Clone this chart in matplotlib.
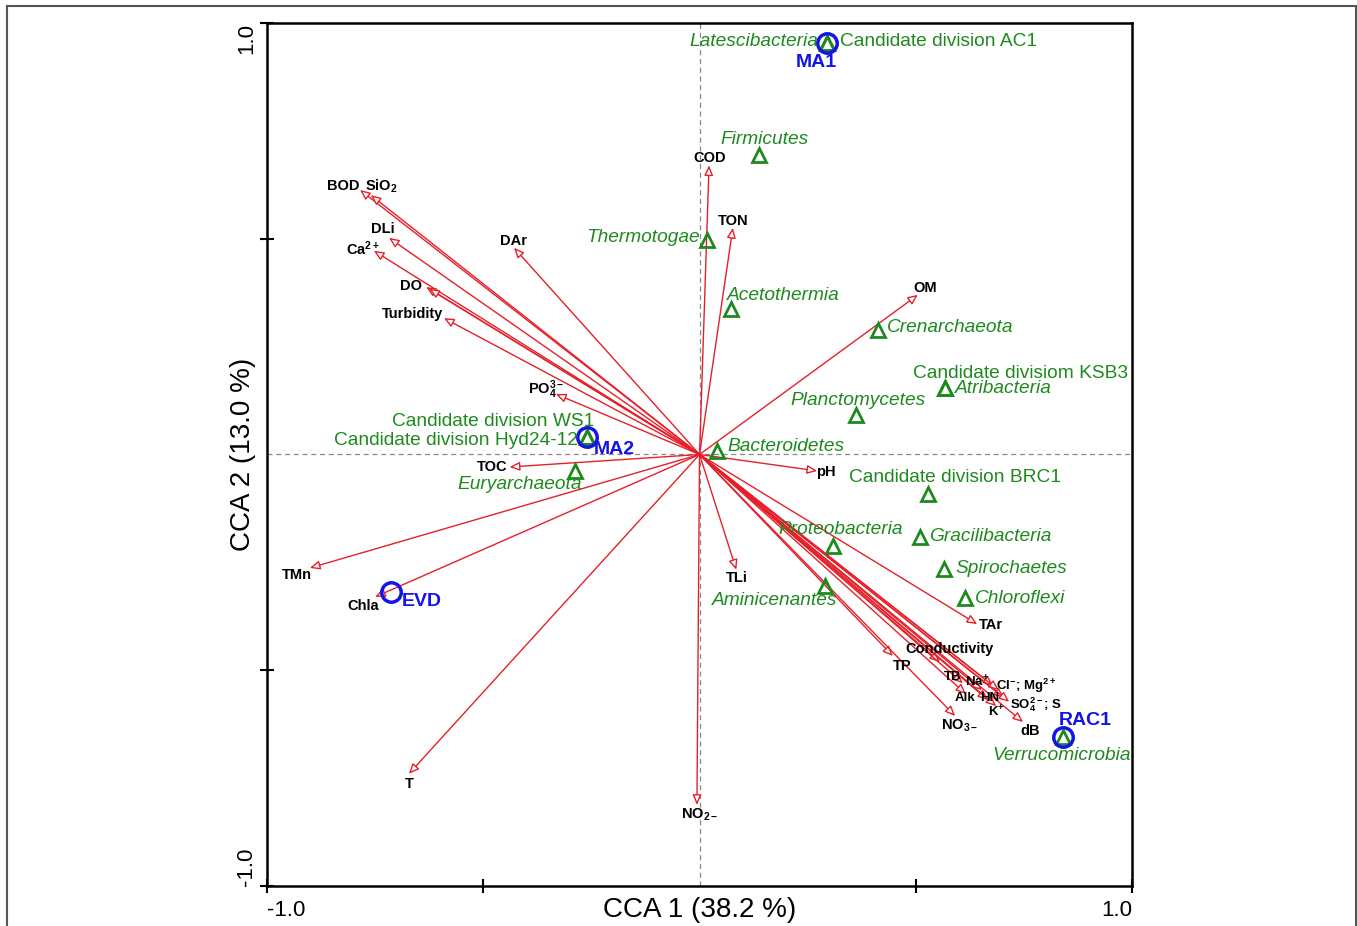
import matplotlib
matplotlib.use("Agg")
import matplotlib.pyplot as plt
from matplotlib.patches import Rectangle

plt.rcParams["font.family"] = ["Liberation Sans", "DejaVu Sans"]
plt.rcParams["mathtext.default"] = "regular"

# %% data: environmental vectors (arrow tips in CCA space)
env_names = ["COD", "TON", "BOD", "SiO2", "DLi", "Ca", "DAr", "DO", "DO2", "Turbidity",
             "PO4", "TOC", "pH", "OM", "TLi", "NO2", "T", "TMn", "Chla", "TAr", "TP",
             "Conductivity", "TB", "Na", "Alk", "HN", "Cl", "Mg", "SO4", "S", "K", "dB", "NO3"]
env_x = [0.022, 0.077, -0.785, -0.760, -0.718, -0.753, -0.429, -0.632, -0.625, -0.591,
         -0.332, -0.439, 0.272, 0.505, 0.085, -0.006, -0.672, -0.901, -0.750, 0.642, 0.447,
         0.556, 0.609, 0.653, 0.616, 0.667, 0.679, 0.692, 0.704, 0.716, 0.686, 0.748, 0.591]
env_y = [0.670, 0.525, 0.613, 0.601, 0.502, 0.472, 0.479, 0.388, 0.384, 0.316,
         0.140, -0.029, -0.038, 0.370, -0.267, -0.812, -0.740, -0.263, -0.330, -0.393, -0.467,
         -0.481, -0.530, -0.546, -0.555, -0.569, -0.536, -0.546, -0.564, -0.573, -0.583, -0.620, -0.606]
env_labels = {
    "COD": "COD", "TON": "TON", "BOD": "BOD", "SiO2": r"SiO$_2$", "DLi": "DLi",
    "Ca": r"Ca$^{2+}$", "DAr": "DAr", "DO": "DO", "Turbidity": "Turbidity",
    "PO4": r"PO$_4^{3-}$", "TOC": "TOC", "pH": "pH", "OM": "OM", "TLi": "TLi",
    "NO2": r"NO$_{2-}$", "T": "T", "TMn": "TMn", "Chla": "Chla", "TAr": "TAr", "TP": "TP",
    "Conductivity": "Conductivity", "TB": "TB", "Na": r"Na$^{+}$", "Alk": "Alk", "HN": "HN",
    "Cl": r"Cl$^{-}$; Mg$^{2+}$", "SO4": r"SO$_4^{2-}$; S", "K": r"K$^{+}$", "dB": "dB",
    "NO3": r"NO$_{3-}$",
}

# species (triangles)
species = ["Latescibacteria", "Candidate division AC1", "Firmicutes", "Thermotogae", "Acetothermia",
           "Crenarchaeota", "Atribacteria", "Candidate divisiom KSB3", "Planctomycetes",
           "Bacteroidetes", "Candidate division BRC1", "Gracilibacteria", "Proteobacteria",
           "Spirochaetes", "Chloroflexi", "Aminicenantes", "Verrucomicrobia", "Euryarchaeota",
           "Candidate division WS1", "Candidate division Hyd24-12"]
sp_x = [0.295, 0.295, 0.137, 0.017, 0.073, 0.412, 0.568, 0.568, 0.362, 0.040, 0.528, 0.510,
        0.308, 0.566, 0.614, 0.290, 0.840, -0.288, -0.260, -0.260]
sp_y = [0.954, 0.954, 0.694, 0.497, 0.337, 0.288, 0.154, 0.154, 0.092, 0.008, -0.092, -0.191,
        -0.212, -0.265, -0.333, -0.305, -0.655, -0.038, 0.041, 0.041]
sp_italic = [True, False, True, True, True, True, True, False, True, True, False, True, True,
             True, True, True, True, True, False, False]

# samples (circles)
samples = ["MA1", "MA2", "EVD", "RAC1"]
smp_x = [0.295, -0.260, -0.713, 0.840]
smp_y = [0.954, 0.041, -0.319, -0.655]

# %% label placement (pixel offsets, y up) and alignment
env_off = {
    "COD": (1, 7), "TON": (0, 7), "BOD": (-17, 4), "SiO2": (10, 9), "DLi": (-6, 9),
    "Ca": (-11, 2), "DAr": (-1, 7), "DO": (-15, 1), "Turbidity": (-31, 4), "PO4": (-10, 4),
    "TOC": (-17, 0), "pH": (9, -1), "OM": (7, 7), "TLi": (1, -8), "NO2": (3, -10), "T": (0, -10),
    "TMn": (-13, -7), "Chla": (-12, -9), "TAr": (14, -1), "TP": (9, -10), "Conductivity": (10, 13),
    "TB": (-10, 6), "Na": (-5, 8), "Alk": (-1, -4), "HN": (2, 2), "Cl": (33, 0), "SO4": (32, -7),
    "K": (0, -6), "dB": (7, -9), "NO3": (5, -10),
}
small_labels = ["Na", "Alk", "HN", "Cl", "SO4", "K", "TB"]
sp_off = [(-9, 1, "right"), (13, 1, "left"), (6, 16, "center"), (-7, 3, "right"),
          (-4, 14, "left"), (9, 3, "left"), (10, 0, "left"), (-32, 15, "left"),
          (-66, 14, "left"), (11, 5, "left"), (-79, 17, "left"), (9, 0, "left"),
          (-54, 16, "left"), (11, 0, "left"), (10, 0, "left"), (-113, -14, "left"),
          (-70, -18, "left"), (-118, -14, "left"), (7, 15, "right"), (-9, -4, "right")]
smp_off = [(-11, -20, "center"), (7, -13, "left"), (11, -9, "left"), (-4, 17, "left")]

red = "#e5202a"
green = "#1e8a1e"
blue = "#1414e6"

fig = plt.figure(figsize=(13.57, 9.26), dpi=100)
fig.patches.append(Rectangle((0.0052, -0.02), 0.9941, 1.0137, transform=fig.transFigure,
                             fill=False, ec="#555555", lw=1.5))
ax = fig.add_axes([0.1968, 0.0432, 0.6374, 0.932])
ax.set_xlim(-1, 1)
ax.set_ylim(-1, 1)

ax.axhline(0, color="#888888", ls=(0, (4, 3)), lw=0.9, zorder=1)
ax.axvline(0, color="#888888", ls=(0, (4, 3)), lw=0.9, zorder=1)

# environmental arrows
for n, x, y in zip(env_names, env_x, env_y):
    ax.annotate("", xy=(x, y), xytext=(0, 0),
                arrowprops=dict(arrowstyle="-|>,head_length=0.5,head_width=0.22", fc="white",
                                ec=red, lw=1.0, shrinkA=0, shrinkB=0, mutation_scale=12),
                zorder=2)
    if n in env_labels:
        dx, dy = env_off[n]
        ax.annotate(env_labels[n], xy=(x, y), xytext=(dx, dy), textcoords="offset pixels",
                    ha="center", va="center", fontsize=9.5 if n in small_labels else 10.5,
                    fontweight="bold", color="black", zorder=4)

# species
ax.plot(sp_x, sp_y, ls="none", marker="^", ms=10, mfc="none", mec=green, mew=2, zorder=3)
for s, x, y, it, (dx, dy, ha) in zip(species, sp_x, sp_y, sp_italic, sp_off):
    ax.annotate(s, xy=(x, y), xytext=(dx, dy), textcoords="offset pixels", ha=ha, va="center",
                fontsize=13.8, color=green, style="italic" if it else "normal", zorder=4)

# samples
ax.plot(smp_x, smp_y, ls="none", marker="o", ms=14, mfc="none", mec=blue, mew=2.5, zorder=3)
for s, x, y, (dx, dy, ha) in zip(samples, smp_x, smp_y, smp_off):
    ax.annotate(s, xy=(x, y), xytext=(dx, dy), textcoords="offset pixels", ha=ha, va="center",
                fontsize=14, fontweight="bold", color=blue, zorder=4)

# axes styling
for sp in ax.spines.values():
    sp.set_linewidth(1.8)
ax.set_xticks([-1, -0.5, 0.5, 1])
ax.set_yticks([-1, -0.5, 0.5, 1])
ax.set_xticklabels([])
ax.set_yticklabels([])
ax.tick_params(direction="inout", length=10, width=1.5)
ax.text(-1, -0.028, "-1.0", transform=ax.get_xaxis_transform(), ha="left", va="center", fontsize=16)
ax.text(1, -0.028, "1.0", transform=ax.get_xaxis_transform(), ha="right", va="center", fontsize=16)
ax.text(-0.024, -1, "-1.0", transform=ax.get_yaxis_transform(), ha="center", va="bottom",
        rotation=90, fontsize=16)
ax.text(-0.024, 1, "1.0", transform=ax.get_yaxis_transform(), ha="center", va="top",
        rotation=90, fontsize=16)
ax.text(0, -0.028, "CCA 1 (38.2 %)", transform=ax.get_xaxis_transform(), ha="center", va="center",
        fontsize=20)
ax.text(-0.028, 0, "CCA 2 (13.0 %)", transform=ax.get_yaxis_transform(), ha="center",
        va="center", rotation=90, fontsize=20)

fig.savefig("out.png", dpi=100)
